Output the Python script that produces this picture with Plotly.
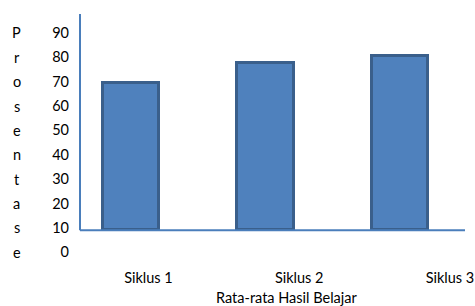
import plotly.graph_objects as go

categories = ["Siklus 1", "Siklus 2", "Siklus 3"]
values = [69.3, 77.6, 80.7]
y_ticks = [0, 10, 20, 30, 40, 50, 60, 70, 80, 90]
y_title_letters = list("Prosentase")
x_title = "Rata-rata Hasil Belajar"
base_level = 9

FONT = "Lato"
FS = 14.5
fig = go.Figure()
fig.add_trace(go.Bar(
    x=list(range(len(categories))),
    y=[v - base_level for v in values],
    base=base_level,
    width=0.42,
    marker=dict(color="#4F81BD", line=dict(color="#3A5F8B", width=3)),
    hoverinfo="skip",
    showlegend=False,
))
fig.add_trace(go.Scatter(
    x=list(range(len(categories))), y=[None] * len(categories),
    xaxis="x2", yaxis="y", showlegend=False, hoverinfo="skip",
))

fig.update_layout(
    template="none",
    width=475, height=306,
    margin=dict(l=80, r=10, t=14, b=49.4, autoexpand=False),
    plot_bgcolor="white", paper_bgcolor="white",
    font=dict(family=FONT, size=FS, color="#000000"),
    xaxis=dict(range=[-0.379, 2.483], showticklabels=False, showgrid=False,
               zeroline=False, showline=False, ticks="", automargin=False),
    xaxis2=dict(range=[-0.454, 2.0995], overlaying="x", anchor="y", side="bottom",
                tickmode="array", tickvals=list(range(len(categories))),
                ticktext=categories, showgrid=False, zeroline=False, showline=False,
                ticks="", ticklabelstandoff=10, ticklabeloverflow="allow",
                automargin=False),
    yaxis=dict(range=[-2, 97.8], tickmode="array", tickvals=y_ticks,
               showgrid=False, zeroline=False, showline=False, ticks="",
               ticklabelstandoff=10, automargin=False),
    bargap=0,
)

# axis lines
fig.add_shape(type="line", xref="paper", yref="y", x0=0, x1=0, y0=base_level, y1=97.8,
              line=dict(color="#4A7EBB", width=2))
fig.add_shape(type="line", xref="paper", yref="y", x0=0, x1=1, y0=base_level, y1=base_level,
              line=dict(color="#4A7EBB", width=2))

# stacked vertical title letters
for letter, yv in zip(y_title_letters, sorted(y_ticks, reverse=True)):
    fig.add_annotation(text=letter, xref="paper", yref="y", x=(16.5 - 80) / 385, y=yv,
                       showarrow=False, xanchor="center", yanchor="middle",
                       font=dict(family=FONT, size=FS))

fig.add_annotation(text=x_title, xref="paper", yref="paper", x=(286.5 - 80) / 385,
                   y=-0.166, showarrow=False, xanchor="center", yanchor="middle",
                   font=dict(family=FONT, size=FS))

fig.write_html("out.html", config={"displayModeBar": False},
               post_script="document.body.style.margin='0px';")
